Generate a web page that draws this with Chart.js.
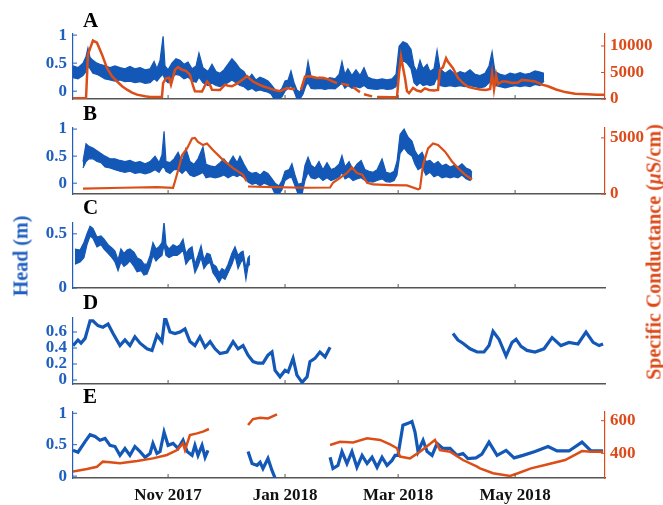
<!DOCTYPE html>
<html lang="en">
<head>
<meta charset="UTF-8">
<title>Head and specific conductance</title>
<script src="https://cdn.jsdelivr.net/npm/chart.js"></script>
<style>
  body { margin: 0; background: #fff; }
  .page { position: relative; width: 663px; height: 505px; overflow: hidden; font-family: "Liberation Serif", "Times New Roman", serif; }
  .page canvas { position: absolute; left: 0; }
  .letter { position: absolute; left: 83px; font-size: 21px; line-height: 21px; font-weight: bold; color: #000; }
  .ylab { position: absolute; font-size: 20px; font-weight: bold; white-space: nowrap; transform: translate(-50%, -50%) rotate(-90deg); }
</style>
</head>
<body>
<div class="page">
  <canvas id="pA" width="663" height="87" style="top:24px"></canvas>
  <canvas id="pB" width="663" height="88" style="top:118px"></canvas>
  <canvas id="pC" width="663" height="87" style="top:213px"></canvas>
  <canvas id="pD" width="663" height="88" style="top:308px"></canvas>
  <canvas id="pE" width="663" height="103" style="top:402px"></canvas>
  <div class="letter" style="top:10px">A</div>
  <div class="letter" style="top:103px">B</div>
  <div class="letter" style="top:197px">C</div>
  <div class="letter" style="top:292px">D</div>
  <div class="letter" style="top:386px">E</div>
  <div class="ylab" style="left:21px; top:256px; color:#1F5FC0">Head (m)</div>
  <div class="ylab" style="left:654px; top:252px; color:#DD4A1A">Specific Conductance (<i>μ</i>S/cm)</div>
</div>

<script>
// x = days since 1 Sep 2017
const tickDays = [61, 122, 181, 242];
const tickLabels = ['Nov 2017', 'Jan 2018', 'Mar 2018', 'May 2018'];

// head bands: [day, low, high] (m)
const headA = [[11.4,0.24,0.45],[14.0,0.22,0.42],[16.6,0.28,0.50],[18.2,0.35,0.62],[19.2,0.45,0.77],[20.3,0.40,0.60],[21.8,0.32,0.55],[23.9,0.30,0.50],[25.5,0.27,0.48],[28.1,0.22,0.45],[30.7,0.20,0.42],[33.3,0.18,0.45],[35.9,0.20,0.42],[38.5,0.17,0.40],[41.1,0.18,0.44],[43.7,0.15,0.40],[46.4,0.17,0.42],[49.0,0.14,0.38],[51.6,0.15,0.40],[53.7,0.22,0.53],[55.2,0.18,0.40],[56.8,0.25,0.55],[58.4,0.30,0.98],[59.4,0.20,0.45],[61.0,0.15,0.38],[63.0,0.25,0.50],[65.1,0.30,0.58],[67.2,0.28,0.55],[69.3,0.22,0.48],[71.4,0.25,0.52],[73.5,0.18,0.40],[75.6,0.16,0.45],[77.1,0.25,0.68],[79.2,0.15,0.42],[81.8,0.10,0.35],[83.9,0.14,0.48],[86.0,0.10,0.35],[88.1,0.08,0.32],[90.1,0.12,0.38],[92.2,0.15,0.48],[94.3,0.20,0.58],[96.4,0.15,0.50],[98.5,0.10,0.40],[100.6,0.08,0.35],[102.7,0.02,0.22],[104.7,0.05,0.30],[106.8,0.00,0.20],[108.9,0.02,0.25],[111.0,0.00,0.22],[113.1,-0.02,0.18],[114.7,-0.05,0.12],[116.3,-0.14,0.05],[118.3,-0.14,-0.02],[120.4,-0.10,0.05],[122.0,0.00,0.18],[123.6,0.05,0.20],[125.1,0.10,0.36],[126.7,0.00,0.15],[128.2,-0.14,0.02],[129.8,-0.14,-0.02],[131.4,-0.05,0.15],[132.9,0.10,0.30],[134.0,0.15,0.53],[135.6,0.05,0.25],[137.6,0.04,0.22],[140.2,0.05,0.25],[142.8,0.03,0.20],[145.4,0.05,0.24],[148.1,0.04,0.22],[150.2,0.10,0.30],[151.7,0.15,0.53],[153.2,0.05,0.30],[154.8,0.10,0.40],[156.9,0.05,0.28],[159.0,0.08,0.38],[161.1,0.06,0.28],[163.2,0.10,0.42],[165.2,0.05,0.25],[167.3,0.04,0.22],[170.0,0.03,0.20],[172.6,0.05,0.22],[175.2,0.03,0.20],[177.8,0.04,0.22],[179.9,0.08,0.30],[181.5,0.40,0.80],[183.5,0.55,0.88],[185.6,0.50,0.85],[187.7,0.40,0.75],[189.3,0.15,0.45],[190.8,0.10,0.35],[192.4,0.15,0.55],[194.0,0.10,0.40],[196.1,0.12,0.48],[197.6,0.10,0.35],[199.7,0.12,0.40],[201.3,0.25,0.73],[202.8,0.10,0.40],[205.5,0.08,0.32],[208.1,0.10,0.38],[210.7,0.08,0.30],[213.3,0.10,0.35],[215.9,0.08,0.32],[218.5,0.10,0.38],[221.1,0.08,0.30],[223.7,0.06,0.28],[226.3,0.08,0.32],[228.4,0.15,0.45],[230.0,0.20,0.70],[231.5,0.10,0.35],[234.2,0.08,0.30],[236.8,0.06,0.28],[239.4,0.08,0.32],[242.0,0.10,0.30],[244.6,0.08,0.33],[247.2,0.10,0.30],[249.8,0.08,0.32],[252.4,0.12,0.36],[255.0,0.10,0.34],[257.1,0.18,0.32]];

const headB = [[16.6,0.28,0.40],[18.2,0.40,0.73],[19.7,0.45,0.68],[21.8,0.45,0.65],[23.9,0.40,0.60],[26.0,0.38,0.55],[28.1,0.30,0.50],[30.7,0.28,0.45],[33.3,0.25,0.45],[35.9,0.22,0.42],[38.5,0.20,0.40],[41.1,0.22,0.42],[43.7,0.18,0.38],[46.4,0.20,0.40],[49.0,0.17,0.36],[51.6,0.20,0.40],[54.2,0.25,0.50],[56.3,0.20,0.38],[57.8,0.28,0.52],[58.9,0.30,0.96],[59.9,0.22,0.40],[62.0,0.18,0.38],[64.1,0.25,0.45],[66.2,0.25,0.57],[68.3,0.18,0.40],[70.3,0.25,0.64],[72.4,0.15,0.40],[74.5,0.12,0.35],[76.6,0.15,0.45],[79.2,0.20,0.67],[80.8,0.10,0.35],[82.9,0.12,0.32],[85.5,0.10,0.30],[88.1,0.12,0.38],[90.1,0.15,0.45],[92.3,0.10,0.35],[94.9,0.15,0.50],[97.0,0.12,0.38],[98.5,0.15,0.50],[100.6,0.10,0.35],[102.7,0.02,0.22],[104.8,-0.02,0.18],[106.9,0.00,0.20],[109.0,-0.05,0.15],[111.0,0.00,0.22],[113.1,-0.03,0.18],[115.2,-0.08,0.08],[116.8,-0.20,0.00],[118.9,-0.20,-0.05],[120.4,-0.12,0.05],[122.0,0.05,0.22],[124.1,0.10,0.25],[125.6,0.10,0.36],[127.2,-0.05,0.15],[128.8,-0.20,-0.02],[130.9,-0.20,0.00],[132.4,0.05,0.33],[134.0,0.20,0.48],[135.6,0.10,0.33],[137.6,0.08,0.28],[139.7,0.12,0.40],[141.8,0.05,0.25],[143.9,0.10,0.38],[146.0,0.05,0.25],[148.1,0.08,0.28],[150.2,0.12,0.35],[151.7,0.20,0.51],[153.3,0.08,0.30],[155.4,0.12,0.40],[157.5,0.05,0.25],[159.5,0.08,0.35],[161.7,0.10,0.42],[163.7,0.05,0.25],[165.8,0.03,0.22],[167.9,0.02,0.20],[170.0,0.05,0.25],[172.6,0.08,0.45],[174.7,0.03,0.20],[176.8,0.02,0.18],[178.9,0.05,0.22],[180.4,0.15,0.40],[182.0,0.55,0.90],[184.1,0.65,1.00],[186.2,0.55,0.85],[188.2,0.50,0.78],[189.8,0.35,0.60],[191.4,0.25,0.50],[193.5,0.30,0.57],[195.5,0.15,0.40],[197.6,0.20,0.42],[199.7,0.12,0.35],[201.8,0.15,0.40],[203.9,0.10,0.32],[206.0,0.12,0.35],[208.1,0.10,0.30],[210.2,0.12,0.33],[212.2,0.10,0.30],[214.3,0.15,0.36],[216.4,0.08,0.28],[218.5,0.05,0.25],[219.5,0.10,0.20]];

const headC = [[12.4,0.22,0.36],[15.1,0.24,0.35],[17.1,0.28,0.42],[18.7,0.40,0.50],[20.3,0.48,0.57],[21.8,0.46,0.55],[23.9,0.38,0.47],[26.0,0.40,0.48],[27.6,0.36,0.45],[29.7,0.32,0.40],[31.7,0.28,0.37],[33.3,0.24,0.34],[34.9,0.16,0.26],[36.4,0.24,0.36],[38.0,0.20,0.32],[39.6,0.22,0.35],[41.1,0.25,0.36],[43.2,0.20,0.33],[44.8,0.15,0.28],[46.9,0.16,0.26],[48.4,0.12,0.22],[50.0,0.13,0.22],[51.6,0.20,0.30],[53.1,0.30,0.42],[54.7,0.25,0.36],[56.3,0.28,0.38],[57.8,0.30,0.42],[58.9,0.40,0.61],[59.9,0.30,0.40],[61.5,0.28,0.36],[63.6,0.30,0.40],[65.7,0.30,0.38],[67.2,0.32,0.40],[68.8,0.35,0.45],[70.3,0.22,0.32],[71.9,0.26,0.36],[73.5,0.28,0.38],[75.0,0.14,0.22],[76.6,0.20,0.30],[78.2,0.28,0.39],[79.7,0.18,0.26],[81.3,0.22,0.32],[82.9,0.24,0.31],[84.4,0.14,0.22],[86.0,0.10,0.20],[87.6,0.05,0.14],[89.1,0.10,0.18],[90.7,0.08,0.16],[92.3,0.14,0.22],[94.3,0.22,0.32],[95.9,0.30,0.38],[97.5,0.18,0.30],[99.0,0.24,0.33],[100.1,0.26,0.34],[101.6,0.08,0.18],[102.7,0.20,0.28],[103.7,0.22,0.30]];

// single head lines: [day, head] (m), null = no record
const headD = [[11.4,0.43],[14.0,0.50],[15.6,0.46],[17.7,0.52],[20.3,0.74],[21.8,0.74],[24.4,0.68],[27.0,0.66],[29.7,0.70],[32.3,0.58],[35.9,0.43],[38.5,0.50],[41.1,0.43],[43.7,0.54],[46.4,0.46],[50.0,0.39],[52.6,0.37],[55.2,0.56],[57.8,0.48],[59.4,0.79],[62.0,0.60],[64.6,0.58],[67.2,0.60],[69.8,0.64],[72.4,0.48],[75.0,0.43],[77.6,0.54],[80.3,0.41],[82.9,0.48],[85.5,0.39],[88.1,0.33],[91.7,0.35],[94.9,0.48],[97.5,0.39],[100.1,0.43],[102.7,0.31],[105.3,0.23],[107.9,0.21],[110.5,0.21],[113.1,0.31],[115.2,0.35],[116.8,0.12],[119.4,0.04],[122.0,0.12],[123.6,0.10],[126.2,0.27],[128.2,0.06],[130.9,-0.03],[133.5,0.04],[135.0,0.23],[137.6,0.27],[140.2,0.35],[142.9,0.29],[145.5,0.41],[170.0,null],[209.6,0.58],[212.2,0.50],[214.8,0.46],[218.5,0.39],[222.2,0.35],[225.8,0.35],[228.4,0.43],[230.5,0.61],[233.6,0.51],[237.3,0.30],[240.4,0.47],[242.5,0.51],[245.1,0.42],[248.2,0.37],[252.4,0.35],[257.1,0.39],[261.3,0.53],[265.9,0.43],[270.1,0.47],[274.8,0.45],[279.0,0.60],[282.7,0.47],[285.8,0.43],[287.9,0.45]];

const headE = [[11.4,0.41],[14.0,0.38],[17.7,0.55],[20.3,0.66],[22.9,0.63],[25.5,0.57],[28.1,0.60],[30.7,0.49],[33.3,0.47],[35.9,0.33],[38.5,0.44],[41.1,0.33],[43.7,0.47],[46.4,0.39],[49.0,0.30],[51.6,0.36],[53.1,0.52],[55.2,0.36],[56.8,0.39],[58.9,0.70],[61.0,0.49],[63.6,0.52],[66.2,0.44],[68.8,0.57],[70.9,0.39],[73.5,0.33],[75.0,0.49],[76.6,0.33],[78.7,0.49],[80.3,0.30],[81.8,0.41],[90.0,null],[102.7,0.39],[104.8,0.20],[107.4,0.17],[109.0,0.22],[110.5,0.12],[113.1,0.28],[115.2,0.09],[116.8,-0.03],[130.0,null],[145.5,0.30],[147.0,0.12],[149.6,0.17],[151.7,0.39],[154.3,0.20],[156.9,0.39],[159.5,0.14],[162.2,0.33],[164.8,0.20],[167.4,0.30],[170.0,0.14],[172.6,0.30],[175.2,0.17],[177.8,0.25],[179.4,0.33],[180.9,0.33],[183.5,0.81],[186.2,0.84],[188.2,0.87],[189.8,0.70],[191.4,0.39],[194.0,0.57],[196.1,0.39],[198.7,0.33],[201.3,0.52],[204.4,0.44],[208.1,0.44],[211.7,0.33],[214.8,0.36],[217.4,0.28],[221.6,0.29],[224.7,0.35],[228.4,0.54],[232.6,0.33],[237.3,0.41],[241.5,0.29],[246.1,0.33],[252.4,0.39],[259.2,0.47],[263.9,0.40],[270.1,0.40],[276.9,0.54],[281.6,0.40],[287.9,0.40]];

// specific conductance: [day, uS/cm], null = gap
const condA = [[11.4,150],[18.2,150],[19.2,8400],[21.8,11000],[23.9,10600],[26.5,8400],[29.1,5850],[31.7,4300],[34.4,3300],[37.0,2400],[39.6,1760],[42.2,1200],[44.8,820],[49.0,500],[51.6,380],[56.8,380],[57.8,400],[58.4,3000],[59.9,3900],[61.5,4000],[62.5,2700],[64.6,5500],[66.2,6000],[68.3,5500],[70.3,5300],[72.4,4600],[74.0,2500],[75.0,1450],[78.7,1400],[80.3,2600],[81.3,3300],[82.9,2600],[83.9,1760],[88.1,1700],[90.7,2700],[92.3,2500],[94.3,2400],[96.4,2800],[98.5,3300],[102.2,4300],[103.7,3800],[105.3,3300],[107.9,2800],[110.5,2400],[113.1,2100],[115.7,1760],[119.4,1450],[121.0,1700],[123.0,2075],[125.6,1900],[127.2,1900],[128.5,null],[130.3,1700],[132.4,4200],[135.0,4300],[138.7,3960],[141.8,4000],[143.9,3800],[147.0,3300],[149.1,3000],[150.2,null],[151.2,2900],[155.4,2600],[156.4,null],[157.5,2200],[161.1,1300],[162.2,null],[163.2,900],[167.4,500],[168.6,null],[170.0,400],[177.8,350],[180.4,380],[181.5,5000],[182.5,8000],[183.5,6000],[184.6,3900],[185.6,1500],[186.7,1100],[188.8,2100],[190.8,1600],[192.9,1400],[195.0,2000],[197.1,1700],[199.7,1600],[201.8,1700],[202.8,5500],[204.4,6000],[206.0,7700],[207.0,7000],[209.6,5800],[212.2,4000],[214.8,3000],[217.4,2300],[220.6,2000],[223.7,1800],[226.8,1700],[229.0,1900],[230.0,4800],[231.0,1800],[232.1,4500],[233.1,2800],[235.2,3300],[237.3,3300],[240.4,3000],[243.5,3100],[245.6,3600],[248.7,3500],[252.4,3300],[256.0,2700],[259.2,2400],[263.4,1800],[268.1,1300],[273.3,1000],[279.5,880],[284.7,800],[288.9,780]];

const condB = [[16.6,470],[37.5,555],[55.2,614],[63.6,555],[65.1,1430],[66.7,2400],[68.3,3480],[70.9,4060],[73.5,4940],[75.0,5000],[76.6,4650],[79.2,4360],[81.3,4500],[84.4,3920],[89.6,3040],[94.9,2310],[100.1,1725],[101.9,1140],[102.3,null],[102.7,670],[115.7,614],[133.5,555],[145.5,580],[147.0,1000],[150.7,1430],[154.3,1870],[156.9,2370],[159.5,1870],[162.2,1725],[164.8,1000],[167.9,850],[176.8,790],[185.6,760],[191.4,410],[192.4,500],[194.0,2600],[196.6,4060],[199.2,4500],[201.8,4360],[205.5,3770],[209.1,2900],[212.2,2310],[215.9,1725],[219.5,1290]];

const condE = [[11.4,288],[18.7,304],[23.9,318],[27.0,349],[30.7,345],[35.9,339],[44.8,353],[53.1,369],[60.4,390],[65.7,420],[68.8,461],[69.8,420],[72.4,512],[76.1,522],[79.2,533],[82.3,549],[90.0,null],[102.7,573],[105.3,610],[109.0,618],[113.1,614],[117.8,639],[130.0,null],[145.5,451],[150.7,471],[157.5,467],[164.8,492],[171.6,482],[176.8,455],[180.4,431],[182.0,380],[187.2,369],[192.4,410],[200.2,482],[202.8,420],[208.1,410],[214.8,359],[222.2,318],[223.7,308],[230.5,278],[239.4,261],[243.5,278],[250.3,308],[259.2,333],[268.1,359],[276.9,414],[281.6,410],[287.9,410]];

const BLUE = '#1358B6';
const BLUE_AX = '#1F5FC0';
const ORANGE = '#DC4E17';
const RED_AX = '#DD4A1A';
const SERIF = '"Liberation Serif", "Times New Roman", serif';
const TICK_FONT = { family: SERIF, size: 17, weight: 'bold' };

// MATLAB style tick marks pointing into the plot
const innerTicks = {
  id: 'innerTicks',
  afterDraw(chart) {
    const ctx = chart.ctx, a = chart.chartArea;
    Object.values(chart.scales).forEach(s => {
      ctx.save();
      ctx.strokeStyle = s.options.border.color;
      ctx.lineWidth = 1;
      s.ticks.forEach(t => {
        const p = s.getPixelForValue(t.value);
        ctx.beginPath();
        if (s.axis === 'x') { ctx.moveTo(p, a.bottom); ctx.lineTo(p, a.bottom - 4); }
        else if (s.position === 'left') { ctx.moveTo(a.left, p); ctx.lineTo(a.left + 4, p); }
        else { ctx.moveTo(a.right, p); ctx.lineTo(a.right - 4, p); }
        ctx.stroke();
      });
      ctx.restore();
    });
  }
};

const pts = (arr, k) => arr.map(p => ({ x: p[0], y: p[k] === null ? null : p[k] }));

// fix axis sizes so every panel has the same plot box
function fixSize(w, h) {
  return s => {
    if (w !== null) s.width = w;
    if (h !== null) s.height = h;
    s.paddingTop = 0; s.paddingBottom = 0; s.paddingLeft = 0; s.paddingRight = 0;
  };
}

function makePanel(id, o) {
  const datasets = [];
  if (o.cond) {
    datasets.push({ data: pts(o.cond, 1), yAxisID: 'yR', borderColor: ORANGE, borderWidth: o.condWidth || 2.5, pointRadius: 0 });
  }
  if (o.band) {
    datasets.push({ data: pts(o.band, 2), yAxisID: 'y', borderColor: BLUE, borderWidth: 1.2, pointRadius: 0 });
    datasets.push({ data: pts(o.band, 1), yAxisID: 'y', borderColor: BLUE, backgroundColor: BLUE, borderWidth: 1.2, pointRadius: 0, fill: '-1' });
  }
  if (o.head) {
    datasets.push({ data: pts(o.head, 1), yAxisID: 'y', borderColor: BLUE, borderWidth: 3.2, pointRadius: 0 });
  }

  const scales = {
    x: {
      type: 'linear', min: 11.4, max: 288.9,
      grid: { display: false, drawTicks: false },
      border: { color: '#555', width: 1.5 },
      afterBuildTicks: s => { s.ticks = tickDays.map(v => ({ value: v })); },
      afterFit: fixSize(null, o.dates ? 27 : 2),
      ticks: { display: !!o.dates, autoSkip: false, padding: 7, color: '#111', font: TICK_FONT, maxRotation: 0,
               callback: v => tickLabels[tickDays.indexOf(v)] }
    },
    y: {
      position: 'left', min: o.yMin, max: o.yMax,
      grid: { display: false, drawTicks: false },
      border: { color: BLUE_AX, width: 1.2 },
      afterBuildTicks: s => { s.ticks = o.yTicks.map(v => ({ value: v })); },
      afterFit: fixSize(73, null),
      ticks: { autoSkip: false, padding: 6, color: BLUE_AX, font: TICK_FONT, callback: v => String(v) }
    }
  };
  if (o.rTicks) {
    scales.yR = {
      position: 'right', min: o.rMin, max: o.rMax,
      grid: { display: false, drawTicks: false },
      border: { color: RED_AX, width: 1.2 },
      afterBuildTicks: s => { s.ticks = o.rTicks.map(v => ({ value: v })); },
      afterFit: fixSize(58, null),
      ticks: { autoSkip: false, padding: 5, color: RED_AX, font: TICK_FONT, callback: v => String(v) }
    };
  }

  new Chart(document.getElementById(id), {
    type: 'line',
    data: { datasets },
    options: {
      responsive: false,
      animation: false,
      events: [],
      layout: { padding: { top: 10, left: 0, right: o.rTicks ? 0 : 58, bottom: o.dates ? 0 : 10 } },
      elements: { line: { tension: 0 } },
      plugins: { legend: { display: false }, tooltip: { enabled: false } },
      scales
    },
    plugins: [innerTicks]
  });
}

makePanel('pA', { band: headA, cond: condA, yMin: -0.14, yMax: 1.02, yTicks: [0, 0.5, 1],
                  rMin: 0, rMax: 12250, rTicks: [0, 5000, 10000] });
makePanel('pB', { band: headB, cond: condB, condWidth: 2.2, yMin: -0.2, yMax: 1.02, yTicks: [0, 0.5, 1],
                  rMin: 0, rMax: 5880, rTicks: [0, 5000] });
makePanel('pC', { band: headC, yMin: 0, yMax: 0.6, yTicks: [0, 0.5] });
makePanel('pD', { head: headD, yMin: -0.05, yMax: 0.775, yTicks: [0, 0.2, 0.4, 0.6] });
makePanel('pE', { head: headE, cond: condE, yMin: -0.03, yMax: 1.02, yTicks: [0, 0.5, 1],
                  rMin: 249, rMax: 653, rTicks: [400, 600], dates: true });
</script>
</body>
</html>
